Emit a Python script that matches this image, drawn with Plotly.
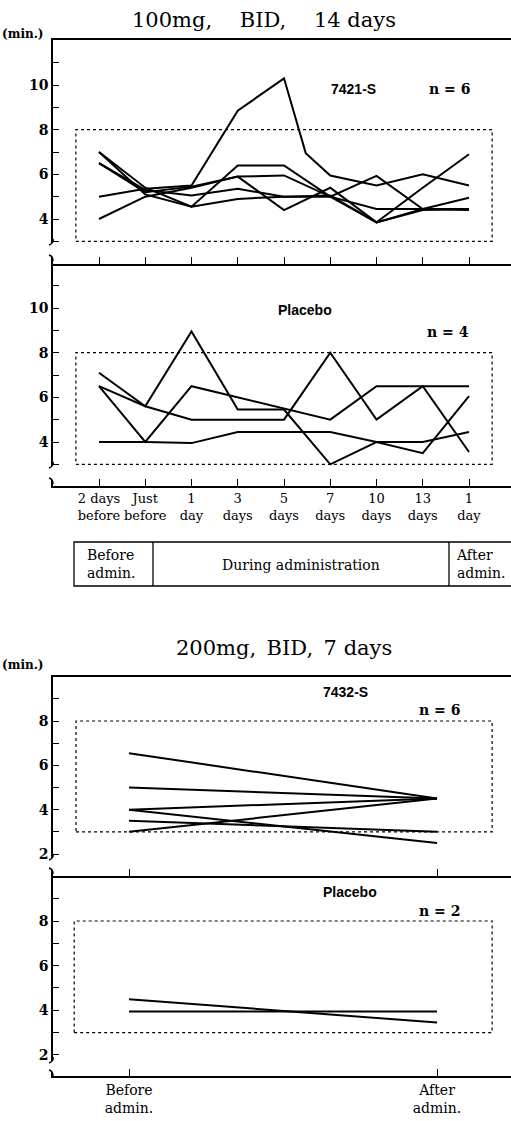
import plotly.graph_objects as go

# ---------------- data ----------------
# 100 mg BID x 14 days: time points
time_labels = ["2 days<br>before", "Just<br>before", "1<br>day", "3<br>days", "5<br>days",
               "7<br>days", "10<br>days", "13<br>days", "1<br>day"]
time_idx = [0, 1, 2, 3, 4, 5, 6, 7, 8]

# 7421-S group (n = 6), minutes
s7421_1_x = [0, 1, 2, 3, 4, 4.47, 5, 6, 7, 8]
s7421_1 = [5.0, 5.35, 5.5, 8.85, 10.3, 6.95, 5.95, 5.5, 6.0, 5.5]
s7421_2 = [7.0, 5.1, 4.55, 6.4, 6.4, 5.0, 3.85, 5.4, 6.9]
s7421_3 = [6.5, 5.2, 5.45, 5.9, 5.95, 5.0, 4.45, 4.45, 4.4]
s7421_4 = [4.0, 5.0, 5.4, 5.9, 4.4, 5.4, 3.85, 4.45, 4.95]
s7421_5 = [6.5, 5.3, 5.05, 5.35, 5.0, 5.0, 5.93, 4.45, 4.45]
s7421_6 = [7.0, 5.4, 4.55, 4.9, 5.0, 5.05, 3.85, 4.4, 4.45]

# Placebo group, 100 mg schedule (n = 4)
plc14_1 = [7.1, 5.6, 8.95, 5.45, 5.45, 3.0, 4.0, 3.5, 6.05]
plc14_2 = [6.5, 5.6, 5.0, 5.0, 5.0, 8.0, 5.0, 6.5, 3.55]
plc14_3 = [6.5, 4.0, 6.5, 6.0, 5.5, 5.0, 6.5, 6.5, 6.5]
plc14_4 = [4.0, 4.0, 3.95, 4.45, 4.45, 4.45, 4.0, 4.0, 4.45]

# 200 mg BID x 7 days: before / after administration
ba_labels = ["Before<br>admin.", "After<br>admin."]
ba_idx = [0, 1]
s7432_before = [6.55, 5.0, 4.0, 4.0, 3.5, 3.0]
s7432_after = [4.5, 4.5, 4.5, 2.5, 3.0, 4.5]
plc7_before = [4.5, 3.95]
plc7_after = [3.45, 3.95]

normal_range = [3, 8]   # dashed reference box, minutes

# ---------------- page geometry (pixels) ----------------
W, H = 511, 1121
AX_X0 = 53


def px(x):
    return x / W


def py(y):
    return 1 - y / H


def lin_range(p_top, p_bot, p_ref, v_ref, px_per_unit):
    """Value range for an axis whose pixel extent is [p_top, p_bot]."""
    return [v_ref - (p_bot - p_ref) / px_per_unit, v_ref + (p_ref - p_top) / px_per_unit]


SERIF = "DejaVu Serif"
SANS = "Liberation Sans"
INK = "black"

fig = go.Figure()

line_style = dict(color=INK, width=2)

# panel 1 traces
fig.add_trace(go.Scatter(x=s7421_1_x, y=s7421_1, mode="lines", line=line_style,
                         xaxis="x", yaxis="y", showlegend=False, hoverinfo="skip"))
for ys in [s7421_2, s7421_3, s7421_4, s7421_5, s7421_6]:
    fig.add_trace(go.Scatter(x=time_idx, y=ys, mode="lines", line=line_style,
                             xaxis="x", yaxis="y", showlegend=False, hoverinfo="skip"))
# panel 2 traces
for ys in [plc14_1, plc14_2, plc14_3, plc14_4]:
    fig.add_trace(go.Scatter(x=time_idx, y=ys, mode="lines", line=line_style,
                             xaxis="x2", yaxis="y2", showlegend=False, hoverinfo="skip"))
# panel 3 traces
for b, a in zip(s7432_before, s7432_after):
    fig.add_trace(go.Scatter(x=ba_idx, y=[b, a], mode="lines", line=line_style,
                             xaxis="x3", yaxis="y3", showlegend=False, hoverinfo="skip"))
# panel 4 traces
for b, a in zip(plc7_before, plc7_after):
    fig.add_trace(go.Scatter(x=ba_idx, y=[b, a], mode="lines", line=line_style,
                             xaxis="x4", yaxis="y4", showlegend=False, hoverinfo="skip"))

x_dom = [px(AX_X0), 1.0]
r14 = [(AX_X0 - 99) / 46.25, (W - 99) / 46.25]
r7 = [(AX_X0 - 129) / 308, (W - 129) / 308]

tick_font = dict(family=SERIF, size=14, color=INK, weight="bold")
cat_font = dict(family=SERIF, size=13, color=INK)


def yaxis(dom_px, rng, vals, labels):
    return dict(domain=[py(dom_px[1]), py(dom_px[0])], range=rng, showline=True,
                linecolor=INK, linewidth=1.5, ticks="inside", ticklen=6, tickwidth=1.3,
                tickcolor=INK, tickvals=vals, ticktext=labels, tickfont=tick_font,
                showgrid=False, zeroline=False, fixedrange=True)


def yt(lo, hi):
    vals = list(range(lo, hi + 1))
    return vals, [str(v) if v % 2 == 0 else "" for v in vals]


v1, t1 = yt(3, 11)
v3, t3 = yt(2, 9)

fig.update_layout(
    width=W, height=H, margin=dict(l=0, r=0, t=0, b=0),
    paper_bgcolor="white", plot_bgcolor="white",
    xaxis=dict(domain=x_dom, anchor="y", range=r14, showline=True, mirror=True,
               linecolor=INK, linewidth=1.5, ticks="inside", ticklen=7, tickwidth=1.3,
               tickcolor=INK, tickvals=time_idx, showticklabels=False,
               showgrid=False, zeroline=False),
    yaxis=yaxis((40, 264), lin_range(40, 264, 219, 4, 22.33), v1, t1),
    xaxis2=dict(domain=x_dom, anchor="y2", range=r14, showline=True, mirror=False,
                linecolor=INK, linewidth=1.5, ticks="inside", ticklen=7, tickwidth=1.3,
                tickcolor=INK, tickvals=time_idx, ticktext=time_labels, tickfont=cat_font,
                tickangle=0, showgrid=False, zeroline=False),
    yaxis2=yaxis((264, 486), lin_range(264, 486, 442, 4, 22.33), v1, t1),
    xaxis3=dict(domain=x_dom, anchor="y3", range=r7, showline=True, mirror=True,
                linecolor=INK, linewidth=1.5, ticks="inside", ticklen=7, tickwidth=1.3,
                tickcolor=INK, tickvals=ba_idx, showticklabels=False,
                showgrid=False, zeroline=False),
    yaxis3=yaxis((677, 876), lin_range(677, 876, 721, 8, 22.17), v3, t3),
    xaxis4=dict(domain=x_dom, anchor="y4", range=r7, showline=True, mirror=False,
                linecolor=INK, linewidth=1.5, ticks="inside", ticklen=7, tickwidth=1.3,
                tickcolor=INK, tickvals=ba_idx, ticktext=ba_labels,
                tickfont=dict(family=SERIF, size=14, color=INK),
                tickangle=0, showgrid=False, zeroline=False),
    yaxis4=yaxis((876, 1076), lin_range(876, 1076, 921, 8, 22.33), v3, t3),
)

shapes = []
# dashed normal-range boxes
for xr, yr, x0, x1 in [("x", "y", -0.5, 8.5), ("x2", "y2", -0.5, 8.5),
                       ("x3", "y3", -0.172, 1.179), ("x4", "y4", -0.178, 1.179)]:
    shapes.append(dict(type="rect", xref=xr, yref=yr, x0=x0, x1=x1,
                       y0=normal_range[0], y1=normal_range[1],
                       line=dict(color=INK, width=1.2, dash="dot"), layer="below"))

# broken-axis marks on the left axes
for a, b in [(243, 257), (466, 480), (858, 870), (1061, 1072)]:
    shapes.append(dict(type="rect", xref="paper", yref="paper",
                       x0=px(48), x1=px(58), y0=py(b), y1=py(a),
                       fillcolor="white", line=dict(width=0), layer="above"))
    for yy in (a, b):
        path = (f"M {px(53)},{py(yy - 4)} Q {px(54)},{py(yy)} {px(49)},{py(yy + 2)}"
                if yy == a else
                f"M {px(49)},{py(yy - 2)} Q {px(53)},{py(yy - 1)} {px(53)},{py(yy + 4)}")
        shapes.append(dict(type="path", xref="paper", yref="paper", path=path,
                           line=dict(color=INK, width=1.5), layer="above"))

# administration phase table under the 14-day panels
shapes.append(dict(type="rect", xref="paper", yref="paper", x0=px(74), x1=px(514),
                   y0=py(586), y1=py(542), line=dict(color=INK, width=1.3)))
for xx in (153, 449):
    shapes.append(dict(type="line", xref="paper", yref="paper", x0=px(xx), x1=px(xx),
                       y0=py(586), y1=py(542), line=dict(color=INK, width=1.3)))
fig.update_layout(shapes=shapes)


def note(text, x, y, size=14, family=SERIF, bold=False, xanchor="center"):
    fig.add_annotation(text=text, x=px(x), y=py(y), xref="paper", yref="paper",
                       showarrow=False, xanchor=xanchor, yanchor="middle",
                       font=dict(family=family, size=size, color=INK,
                                 weight="bold" if bold else "normal"),
                       align="left" if xanchor == "left" else "center")


note("100mg,\u00a0\u2003BID,\u00a0\u200314 days", 264, 20, size=21)
note("(min.)", 0, 34, size=12, bold=True, xanchor="left")
note("7421-S", 353, 89, size=14, family=SANS, bold=True)
note("n = 6", 449, 89, size=14, bold=True)
note("Placebo", 305, 310, size=14, family=SANS, bold=True)
note("n = 4", 448, 332, size=14, bold=True)
note("Before<br>admin.", 85, 564, size=14, xanchor="left")
note("During administration", 301, 565, size=14)
note("After<br>admin.", 454, 564, size=14, xanchor="left")

note("200mg,\u2002BID,\u20027 days", 284, 648, size=21)
note("(min.)", 0, 665, size=12, bold=True, xanchor="left")
note("7432-S", 345, 692, size=14, family=SANS, bold=True)
note("n = 6", 439, 710, size=14, bold=True)
note("Placebo", 350, 892, size=14, family=SANS, bold=True)
note("n = 2", 439, 911, size=14, bold=True)

fig.write_html("out.html")
